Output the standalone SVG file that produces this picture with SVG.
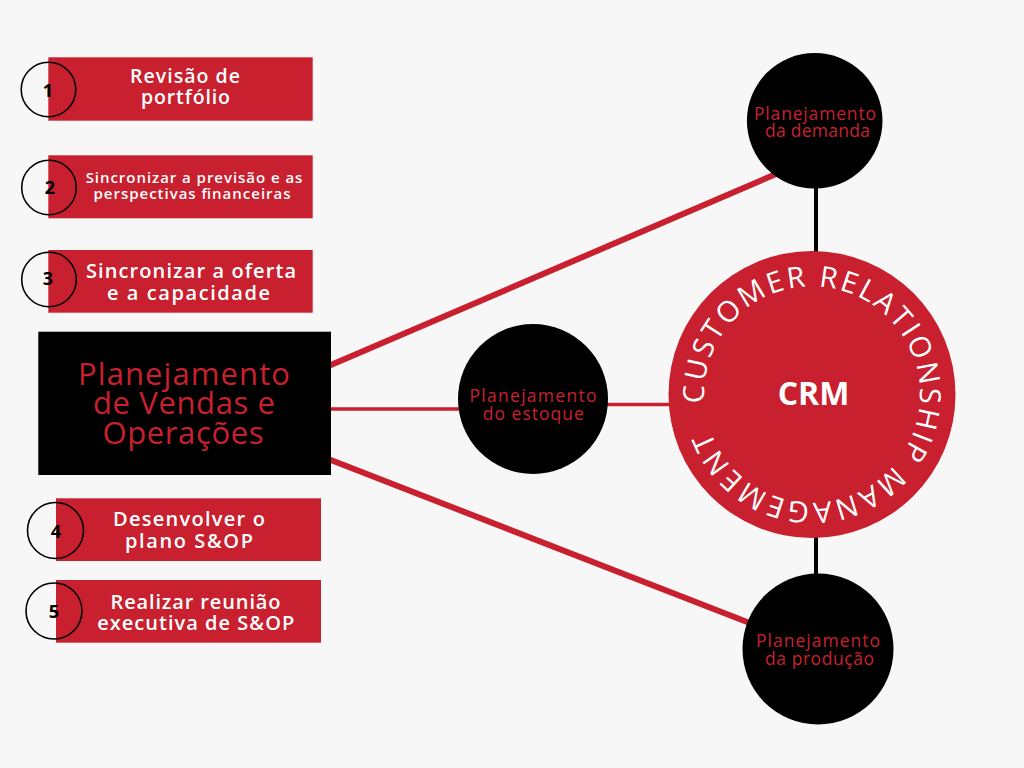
<svg xmlns="http://www.w3.org/2000/svg" width="1024" height="768" viewBox="0 0 1024 768">
  <defs>
    <style>
      .bg { fill: #f7f7f7; }
      .step { fill: #c8202f; }
      .ring { fill: none; stroke: #000; stroke-width: 1.6; }
      .num { font-family: "Open Sans", "Liberation Sans", sans-serif; font-weight: 700; font-size: 18px; fill: #000; text-anchor: middle; }
      .stxt { font-family: "Open Sans", "Liberation Sans", sans-serif; font-weight: 600; fill: #fff; text-anchor: middle; }
      .dot { fill: #000; }
      .ctxt { font-family: "Open Sans", "Liberation Sans", sans-serif; font-weight: 500; font-size: 17.5px; fill: #c8202f; text-anchor: middle; }
      .main { fill: #000; }
      .mtxt { font-family: "Open Sans", "Liberation Sans", sans-serif; font-weight: 500; font-size: 31px; fill: #c8202f; text-anchor: middle; }
      .red { stroke: #c8202f; fill: none; }
      .blk { stroke: #000; stroke-width: 4; fill: none; }
      .crm { fill: #c8202f; }
      .arc { font-family: "Open Sans", "Liberation Sans", sans-serif; font-weight: 400; font-size: 29px; fill: #fff; }
      .crmt { font-family: "Open Sans", "Liberation Sans", sans-serif; font-weight: 700; font-size: 32px; fill: #fff; text-anchor: middle; }
    </style>
    <path id="crmArc" d="M 704.33 402.97 A 108 108 0 1 1 919.67 386.03 A 108 108 0 1 1 704.33 402.97"/>
  </defs>

  <rect class="bg" x="0" y="0" width="1024" height="768"/>

  <g id="connectors">
    <line class="red" x1="325" y1="367.6" x2="790" y2="168" stroke-width="6"/>
    <line class="red" x1="325" y1="409" x2="470" y2="409" stroke-width="3.5"/>
    <line class="red" x1="600" y1="404.5" x2="675" y2="404.5" stroke-width="3.5"/>
    <line class="red" x1="325" y1="457.7" x2="760" y2="627" stroke-width="6"/>
    <line class="blk" x1="816" y1="180" x2="816" y2="262"/>
    <line class="blk" x1="816" y1="528" x2="816" y2="582"/>
  </g>

  <g id="step1">
    <rect class="step" x="48.3" y="57.3" width="264.4" height="63.4"/>
    <circle class="ring" cx="48.5" cy="89.5" r="27.3"/>
    <text class="num" x="48" y="96.7">1</text>
    <text class="stxt" x="185" y="83.3" font-size="19.5" textLength="110" lengthAdjust="spacing">Revisão de</text>
    <text class="stxt" x="185.5" y="104" font-size="19.5" textLength="89" lengthAdjust="spacing">portfólio</text>
  </g>

  <g id="step2">
    <rect class="step" x="48.3" y="155.3" width="264.4" height="63"/>
    <circle class="ring" cx="49" cy="187.5" r="27.3"/>
    <text class="num" x="50" y="194.3">2</text>
    <text class="stxt" x="194" y="182.6" font-size="15" textLength="216.7" lengthAdjust="spacing">Sincronizar a previsão e as</text>
    <text class="stxt" x="192" y="198.6" font-size="15" textLength="197" lengthAdjust="spacing">perspectivas financeiras</text>
  </g>

  <g id="step3">
    <rect class="step" x="48.3" y="250" width="264.4" height="62.7"/>
    <circle class="ring" cx="49" cy="279.5" r="27.3"/>
    <text class="num" x="48" y="285">3</text>
    <text class="stxt" x="191" y="277.7" font-size="20" textLength="210" lengthAdjust="spacing">Sincronizar a oferta</text>
    <text class="stxt" x="188.5" y="300" font-size="20" textLength="163" lengthAdjust="spacing">e a capacidade</text>
  </g>

  <g id="main">
    <rect class="main" x="38.3" y="331.7" width="292.7" height="143.3"/>
    <text class="mtxt" x="184" y="385" textLength="212" lengthAdjust="spacing">Planejamento</text>
    <text class="mtxt" x="184" y="414.3" textLength="182" lengthAdjust="spacing">de Vendas e</text>
    <text class="mtxt" x="183" y="444" textLength="161" lengthAdjust="spacing">Operações</text>
  </g>

  <g id="step4">
    <rect class="step" x="56" y="498.3" width="265" height="62.7"/>
    <circle class="ring" cx="55.5" cy="530.5" r="28"/>
    <text class="num" x="56" y="538.3">4</text>
    <text class="stxt" x="189" y="525.7" font-size="20" textLength="152" lengthAdjust="spacing">Desenvolver o</text>
    <text class="stxt" x="189" y="548.3" font-size="20" textLength="128" lengthAdjust="spacing">plano S&amp;OP</text>
  </g>

  <g id="step5">
    <rect class="step" x="56" y="580" width="265" height="62.7"/>
    <circle class="ring" cx="54" cy="611" r="28"/>
    <text class="num" x="54" y="618.3">5</text>
    <text class="stxt" x="195.5" y="609.3" font-size="20" textLength="170" lengthAdjust="spacing">Realizar reunião</text>
    <text class="stxt" x="195.7" y="630" font-size="20" textLength="197" lengthAdjust="spacing">executiva de S&amp;OP</text>
  </g>

  <g id="demanda">
    <circle class="dot" cx="814.7" cy="120.8" r="67.8"/>
    <text class="ctxt" x="815" y="120" textLength="122" lengthAdjust="spacing">Planejamento</text>
    <text class="ctxt" x="817.5" y="136.7" textLength="105" lengthAdjust="spacing">da demanda</text>
  </g>

  <g id="estoque">
    <circle class="dot" cx="533" cy="399" r="75"/>
    <text class="ctxt" x="533" y="402.3" textLength="127" lengthAdjust="spacing">Planejamento</text>
    <text class="ctxt" x="533.3" y="420" textLength="101" lengthAdjust="spacing">do estoque</text>
  </g>

  <g id="producao">
    <circle class="dot" cx="818" cy="649" r="75.5"/>
    <text class="ctxt" x="818" y="647.3" textLength="124" lengthAdjust="spacing">Planejamento</text>
    <text class="ctxt" x="819.5" y="665" textLength="109" lengthAdjust="spacing">da produção</text>
  </g>

  <g id="crm">
    <circle class="crm" cx="812" cy="394.5" r="143.5"/>
    <text class="arc" textLength="649" lengthAdjust="spacing"><textPath href="#crmArc">CUSTOMER RELATIONSHIP MANAGEMENT</textPath></text>
    <text class="crmt" x="813.5" y="405">CRM</text>
  </g>
</svg>
